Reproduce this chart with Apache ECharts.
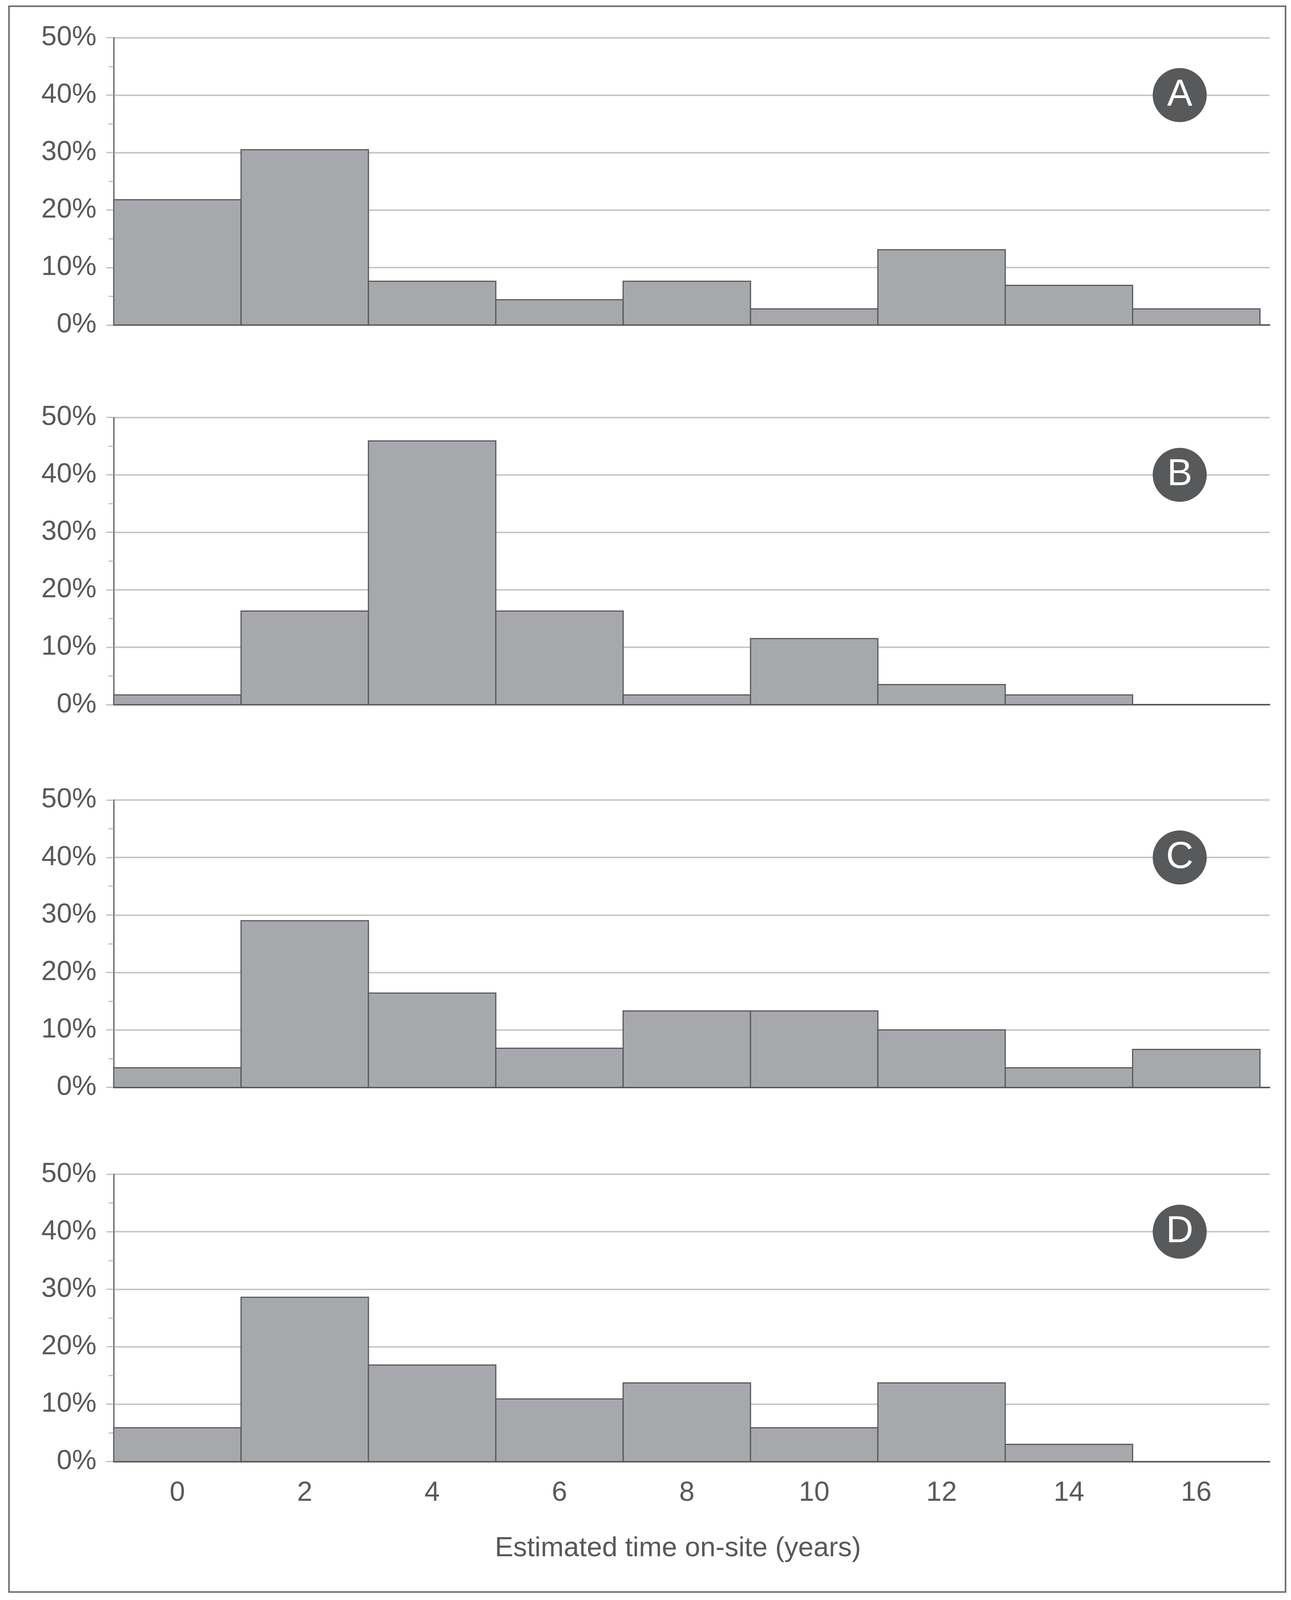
<!DOCTYPE html>
<html>
<head>
<meta charset="utf-8">
<style>
  html, body { margin: 0; padding: 0; background: #ffffff; overflow: hidden; }
</style>
<script src="https://cdn.jsdelivr.net/npm/echarts@6/dist/echarts.min.js"></script>
</head>
<body>
<div id="chart"></div>
<script>
// bin centres (years), each bin is 2 years wide
var bins = [0, 2, 4, 6, 8, 10, 12, 14, 16];

// share of sites per bin (%)
var panelA = [21.8, 30.5, 7.6, 4.4, 7.6, 2.8, 13.1, 6.9, 2.8];
var panelB = [1.7, 16.3, 45.9, 16.3, 1.7, 11.5, 3.5, 1.7, 0];
var panelC = [3.4, 29.0, 16.4, 6.8, 13.3, 13.3, 10.0, 3.4, 6.6];
var panelD = [5.9, 28.6, 16.8, 10.9, 13.7, 5.9, 13.7, 3.0, 0];

var panelLetters = ['A', 'B', 'C', 'D'];
var xTitle = 'Estimated time on-site (years)';

var dark = '#58595b';
var barFill = '#a7a8ab';
var gridGray = '#c7c8ca';
var font = '"Liberation Sans", Arial, sans-serif';

// layout was measured on a 3304 x 4382 page; fit it to the real viewport
var W = window.innerWidth || 3304;
var H = window.innerHeight || 4382;
var sx = W / 3304;
var sy = H / 4382;
var fs = Math.sqrt(sx * sy);

var el = document.getElementById('chart');
el.style.width = W + 'px';
el.style.height = H + 'px';

var panels = [panelA, panelB, panelC, panelD];
var tops = [103, 1143, 2191, 3216];
var plotH = 787;

function renderBin(params, api) {
    var x = api.value(0);
    var v = api.value(1);
    if (!v) {
        return null;
    }
    var p0 = api.coord([x - 1, v]);
    var p1 = api.coord([x + 1, 0]);
    return {
        type: 'rect',
        shape: { x: p0[0], y: p0[1], width: p1[0] - p0[0], height: p1[1] - p0[1] },
        style: { fill: barFill, stroke: dark, lineWidth: 3 }
    };
}

var grid = [], xAxis = [], yAxis = [], series = [];

panels.forEach(function (vals, i) {
    var last = i === panels.length - 1;
    grid.push({ left: 291 * sx, width: 2958 * sx, top: tops[i] * sy, height: plotH * sy });

    xAxis.push({
        type: 'value',
        gridIndex: i,
        min: -1,
        max: 17.15,
        splitLine: { show: false },
        axisTick: { show: false },
        axisLine: { show: true, onZero: false, lineStyle: { color: dark, width: 4 } },
        axisLabel: {
            show: last,
            customValues: bins,
            margin: 48 * sy,
            fontSize: 73 * fs,
            fontFamily: font,
            color: dark
        }
    });

    yAxis.push({
        type: 'value',
        gridIndex: i,
        min: 0,
        max: 50,
        interval: 10,
        axisLine: { show: true, onZero: false, lineStyle: { color: dark, width: 3 } },
        axisTick: { show: true, length: 19 * sx, lineStyle: { color: '#bcbec0', width: 3 } },
        minorTick: { show: true, splitNumber: 2, length: 13 * sx, lineStyle: { color: '#bcbec0', width: 3 } },
        splitLine: { show: true, lineStyle: { color: gridGray, width: 4 } },
        axisLabel: {
            formatter: '{value}%',
            margin: 44 * sx,
            fontSize: 73 * fs,
            fontFamily: font,
            color: dark
        }
    });

    series.push({
        type: 'custom',
        xAxisIndex: i,
        yAxisIndex: i,
        renderItem: renderBin,
        data: bins.map(function (b, k) { return [b, vals[k]]; }),
        z: 3
    });

    // panel badge, sitting on the 40% line near the right end
    series.push({
        type: 'scatter',
        xAxisIndex: i,
        yAxisIndex: i,
        symbol: 'circle',
        symbolSize: 143 * fs,
        itemStyle: { color: dark, opacity: 1 },
        label: {
            show: true,
            position: 'inside',
            formatter: panelLetters[i],
            color: '#ffffff',
            fontSize: 100 * fs,
            fontFamily: font
        },
        data: [[15.74, 40]],
        z: 4
    });
});

var chart = echarts.init(el, null, { renderer: 'canvas' });
chart.setOption({
    backgroundColor: '#ffffff',
    animation: false,
    title: {
        text: xTitle,
        left: 1730 * sx,
        top: 4198 * sy,
        textAlign: 'center',
        textStyle: { fontSize: 73 * fs, fontWeight: 'normal', fontFamily: font, color: dark }
    },
    grid: grid,
    xAxis: xAxis,
    yAxis: yAxis,
    series: series,
    graphic: [{
        type: 'rect',
        shape: { x: 23 * sx, y: 17 * sy, width: 3267 * sx, height: 4343 * sy },
        style: { fill: 'none', stroke: '#6d6e71', lineWidth: 4 },
        silent: true
    }]
});
</script>
</body>
</html>
